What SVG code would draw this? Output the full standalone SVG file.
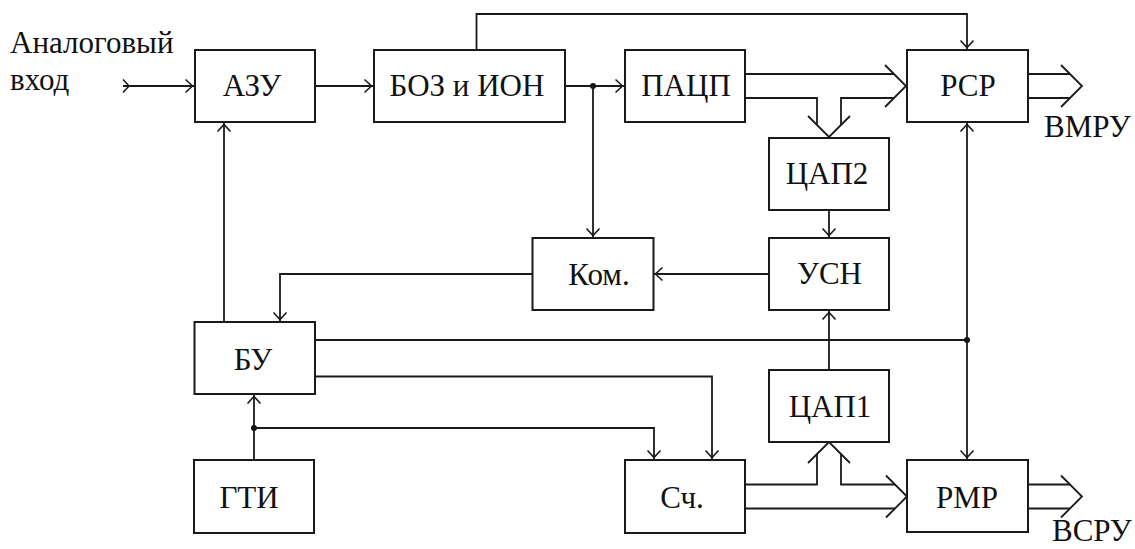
<svg xmlns="http://www.w3.org/2000/svg" width="1135" height="549" viewBox="0 0 1135 549">
<style>
.box{fill:#fff;stroke:#1a1a1a;stroke-width:2}
.ln{fill:none;stroke:#1a1a1a;stroke-width:1.8}
.t{font-family:'Liberation Serif','DejaVu Serif',serif;font-size:31px;fill:#111}
.c{text-anchor:middle}
.dot{fill:#111}
</style>
<defs>
<marker id="arr" markerUnits="userSpaceOnUse" viewBox="-10 -8 14 16" markerWidth="14" markerHeight="16" refX="2.5" refY="0" orient="auto-start-reverse" overflow="visible">
<path d="M-7,-6.5 L0,0 L-7,6.5" fill="none" stroke="#1a1a1a" stroke-width="1.6"/>
</marker>
<marker id="tail" markerUnits="userSpaceOnUse" viewBox="-2 -8 10 16" markerWidth="10" markerHeight="16" refX="0" refY="0" orient="auto" overflow="visible">
<path d="M0,-6.5 L6,0 L0,6.5" fill="none" stroke="#1a1a1a" stroke-width="1.6"/>
</marker>
<path id="chev" d="M-21,-21 L0,0 L-21,21" fill="none" stroke="#1a1a1a" stroke-width="1.8"/>
</defs>

<text class="t" x="10" y="53">Аналоговый</text>
<text class="t" x="10" y="90">вход</text>

<g id="connectors">
<path class="ln" d="M123,86 H195" marker-start="url(#tail)" marker-end="url(#arr)"/>
<path class="ln" d="M315,86 H374" marker-end="url(#arr)"/>
<path class="ln" d="M565,86 H625" marker-end="url(#arr)"/>
<circle class="dot" cx="593" cy="86" r="3"/>
<path class="ln" d="M593,86 V238" marker-end="url(#arr)"/>
<path class="ln" d="M476.5,50 V14 H967 V50" marker-end="url(#arr)"/>
<path class="ln" d="M745,74 H894"/>
<path class="ln" d="M745,98 H817 V125"/>
<path class="ln" d="M841,125 V98 H894"/>
<use href="#chev" transform="translate(906,86)"/>
<use href="#chev" transform="translate(829,137) rotate(90)"/>
<path class="ln" d="M1028,74 H1070 M1028,98 H1070"/>
<use href="#chev" transform="translate(1082,86)"/>
<path class="ln" d="M829,210 V238" marker-end="url(#arr)"/>
<path class="ln" d="M769,274 H653" marker-end="url(#arr)"/>
<path class="ln" d="M532,274 H280 V322" marker-end="url(#arr)"/>
<path class="ln" d="M224,322 V122" marker-end="url(#arr)"/>
<path class="ln" d="M829,370 V310" marker-end="url(#arr)"/>
<path class="ln" d="M967,122 V460" marker-start="url(#arr)" marker-end="url(#arr)"/>
<path class="ln" d="M315,340 H967"/>
<circle class="dot" cx="967" cy="340" r="3"/>
<path class="ln" d="M315,376.5 H712 V460" marker-end="url(#arr)"/>
<path class="ln" d="M254,460 V394" marker-end="url(#arr)"/>
<circle class="dot" cx="254" cy="428" r="3"/>
<path class="ln" d="M254,428 H654 V460" marker-end="url(#arr)"/>
<path class="ln" d="M745,484.5 H817 V454"/>
<path class="ln" d="M841,454 V484.5 H895"/>
<path class="ln" d="M745,508.5 H895"/>
<use href="#chev" transform="translate(829,442) rotate(-90)"/>
<use href="#chev" transform="translate(907,496.5)"/>
<path class="ln" d="M1028,484.5 H1070 M1028,508.5 H1070"/>
<use href="#chev" transform="translate(1082,496.5)"/>
</g>

<g id="azu"><rect class="box" x="195" y="50" width="120" height="72"/><text class="t c" x="252" y="96">АЗУ</text></g>
<g id="boz"><rect class="box" x="374" y="50" width="191" height="72"/><text class="t c" x="467" y="96">БОЗ и ИОН</text></g>
<g id="pacp"><rect class="box" x="625" y="50" width="120" height="72"/><text class="t c" x="686" y="96">ПАЦП</text></g>
<g id="rsr"><rect class="box" x="907" y="50" width="121" height="72"/><text class="t c" x="968" y="96">РСР</text></g>
<text class="t" x="1044" y="137">ВМРУ</text>
<g id="cap2"><rect class="box" x="769" y="138" width="120" height="72"/><text class="t c" x="827" y="184">ЦАП2</text></g>
<g id="kom"><rect class="box" x="532.5" y="238" width="121" height="72"/><text class="t c" x="599" y="285">Ком.</text></g>
<g id="usn"><rect class="box" x="769" y="238" width="120" height="72"/><text class="t c" x="829.5" y="284">УСН</text></g>
<g id="bu"><rect class="box" x="194.5" y="322" width="120.5" height="72"/><text class="t c" x="253" y="370">БУ</text></g>
<g id="cap1"><rect class="box" x="769" y="370" width="120" height="72"/><text class="t c" x="830" y="417">ЦАП1</text></g>
<g id="gti"><rect class="box" x="194" y="460" width="120" height="73"/><text class="t c" x="249" y="508">ГТИ</text></g>
<g id="sch"><rect class="box" x="625" y="460" width="120" height="73"/><text class="t c" x="682" y="508">Сч.</text></g>
<g id="rmr"><rect class="box" x="907" y="460" width="121" height="72"/><text class="t c" x="967" y="508">РМР</text></g>
<text class="t" x="1052" y="541">ВСРУ</text>
</svg>
